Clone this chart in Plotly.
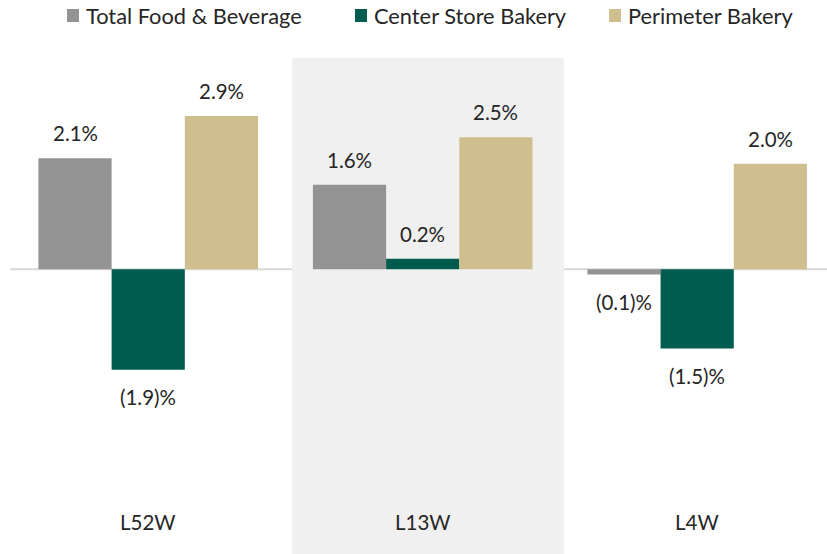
import plotly.graph_objects as go

categories = ["L52W", "L13W", "L4W"]
series_names = ["Total Food & Beverage", "Center Store Bakery", "Perimeter Bakery"]
total_fb = [2.1, 1.6, -0.1]
center_store = [-1.9, 0.2, -1.5]
perimeter = [2.9, 2.5, 2.0]
colors = ["#939393", "#005c4f", "#cfbf8f"]

series_values = [total_fb, center_store, perimeter]

FONT = "Lato"
TXT = "#262626"
TOP = 58
PLOT_H = 554 - TOP

def fmt(v):
    return f"({abs(v):.1f})%" if v < 0 else f"{v:.1f}%"

def py(pix):
    return 1 + (TOP - pix) / PLOT_H

fig = go.Figure()
x_idx = list(range(len(categories)))
for name, vals, col in zip(series_names, series_values, colors):
    fig.add_trace(go.Bar(x=x_idx, y=vals, name=name, marker=dict(color=col, line=dict(width=0)),
                         showlegend=False))

bar_w = 0.8 / 3
annotations = []
for si, vals in enumerate(series_values):
    off = (si - 1) * bar_w
    for ci, v in enumerate(vals):
        annotations.append(dict(x=ci + off, y=v, xref="x", yref="y", text=fmt(v), showarrow=False,
                                yshift=25 if v >= 0 else -27, font=dict(family=FONT, size=20.5, color=TXT)))
for ci, c in enumerate(categories):
    annotations.append(dict(x=ci, y=-4.78, xref="x", yref="y", text=c, showarrow=False,
                            font=dict(family=FONT, size=20.5, color=TXT)))

# manual legend
leg_x = [67, 355, 609]
for name, col, px in zip(series_names, colors, leg_x):
    annotations.append(dict(x=(px + 17) / 827, y=py(15), xref="paper", yref="paper", text=name,
                            showarrow=False, xanchor="left", yanchor="middle", xshift=0,
                            font=dict(family=FONT, size=21.8, color=TXT)))

shapes = [
    dict(type="rect", xref="x", yref="y", x0=0.524, x1=1.515, y0=-5.39, y1=4.0,
         fillcolor="#f0f0f0", line=dict(width=0), layer="below"),
    dict(type="line", xref="paper", yref="y", x0=10 / 827, x1=1, y0=0, y1=0,
         line=dict(color="#d9d9d9", width=2), layer="below"),
]
for col, px in zip(colors, leg_x):
    shapes.append(dict(type="rect", xref="paper", yref="paper", x0=px / 827, x1=(px + 12) / 827,
                       y0=py(22), y1=py(9), fillcolor=col, line=dict(width=0)))

fig.update_layout(
    width=827, height=554,
    margin=dict(l=0, r=0, t=TOP, b=0),
    paper_bgcolor="white", plot_bgcolor="rgba(0,0,0,0)",
    barmode="group", bargap=0.2, bargroupgap=0,
    xaxis=dict(range=[-0.54, 2.473], showgrid=False, zeroline=False, showticklabels=False, fixedrange=True),
    yaxis=dict(range=[-5.39, 4.0], showgrid=False, zeroline=False, showticklabels=False, fixedrange=True),
    annotations=annotations, shapes=shapes,
    font=dict(family=FONT, color=TXT),
)

fig.write_html("out.html", config={"displayModeBar": False},
               post_script="document.body.style.margin='0px';document.body.style.overflow='hidden';")
